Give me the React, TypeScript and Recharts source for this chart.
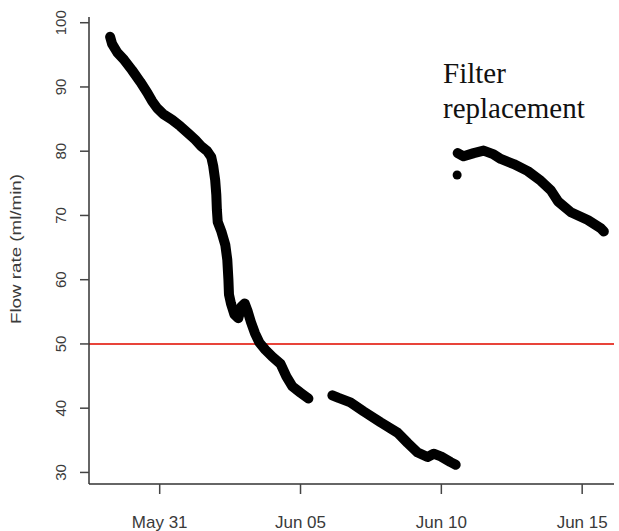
import React from 'react';
import { ComposedChart, Line, Scatter, XAxis, YAxis, ReferenceLine } from 'recharts';

// days are counted from May 31 (0 = May 31, 5 = Jun 05, ...)
const dayTicks = [0, 5, 10, 15];
const dayLabels = ['May 31', 'Jun 05', 'Jun 10', 'Jun 15'];
const flowTicks = [30, 40, 50, 60, 70, 80, 90, 100];
const threshold = 50;

// first filter, up to the logging gap
const days1 = [
  -1.76, -1.69, -1.51, -1.26, -0.98, -0.69, -0.44, -0.27, -0.09, 0.12, 0.44, 0.73,
  1.01, 1.26, 1.47, 1.69, 1.83, 1.9, 1.97, 2.01, 2.03, 2.06, 2.19, 2.33, 2.4, 2.44,
  2.46, 2.53, 2.65, 2.79, 2.9, 3.02, 3.13, 3.24, 3.38, 3.54, 3.75, 4.0, 4.29, 4.5,
  4.71, 5.0, 5.28,
];
const flow1 = [
  97.8, 96.7, 95.4, 94.2, 92.6, 90.8, 89.1, 87.8, 86.7, 85.8, 84.9, 83.9,
  82.8, 81.8, 80.8, 80.0, 79.1, 77.7, 75.5, 73.2, 70.9, 69.0, 67.5, 65.4, 63.1, 60.0,
  57.7, 56.3, 54.6, 54.0, 55.8, 56.3, 55.0, 53.4, 51.7, 50.2, 49.1, 48.0, 46.9, 44.9,
  43.4, 42.4, 41.5,
];

// first filter, after the gap
const days2 = [6.13, 6.35, 6.77, 7.24, 7.84, 8.44, 8.8, 9.16, 9.51, 9.73, 9.98, 10.33, 10.51];
const flow2 = [42.0, 41.6, 40.9, 39.5, 37.8, 36.2, 34.6, 33.1, 32.4, 32.9, 32.5, 31.6, 31.2];

// new filter
const days3 = [10.58, 10.79, 11.15, 11.5, 11.86, 12.11, 12.57, 13.07, 13.53, 13.89, 14.14, 14.6, 15.2, 15.66, 15.77];
const flow3 = [79.7, 79.2, 79.7, 80.1, 79.5, 78.8, 78.0, 76.9, 75.4, 73.9, 72.2, 70.5, 69.3, 68.0, 67.5];

const firstReadingDay = [10.56];
const firstReadingFlow = [76.3];

const zip = (d: number[], f: number[]) => d.map((day, i) => ({ day, flow: f[i] }));

const seg1 = zip(days1, flow1);
const seg2 = zip(days2, flow2);
const seg3 = zip(days3, flow3);
const firstReading = zip(firstReadingDay, firstReadingFlow);

const X_DOMAIN: [number, number] = [-2.51, 16.13];
const Y_DOMAIN: [number, number] = [28.2, 100.89];

const sans = '"Liberation Sans", Arial, sans-serif';

const XTick = (props: any) => {
  const { x, payload } = props;
  const i = dayTicks.indexOf(payload.value);
  return (
    <text x={x} y={528} textAnchor="middle" fontFamily={sans} fontSize={17} fill="#3a3a3a">
      {dayLabels[i]}
    </text>
  );
};

const YTick = (props: any) => {
  const { y, payload } = props;
  return (
    <text
      x={66}
      y={y}
      transform={`rotate(-90 66 ${y})`}
      textAnchor="middle"
      fontFamily={sans}
      fontSize={15}
      fill="#3a3a3a"
    >
      {payload.value}
    </text>
  );
};

const YTitle = () => (
  <text
    x={21}
    y={249}
    transform="rotate(-90 21 249)"
    textAnchor="middle"
    fontFamily={sans}
    fontSize={14}
    fill="#3a3a3a"
    textLength={150}
    lengthAdjust="spacingAndGlyphs"
  >
    Flow rate (ml/min)
  </text>
);

const traceProps = {
  type: 'linear' as const,
  dataKey: 'flow',
  stroke: '#000',
  strokeWidth: 10,
  strokeLinecap: 'round' as const,
  strokeLinejoin: 'round' as const,
  dot: false,
  activeDot: false,
  isAnimationActive: false,
};

export default function App() {
  return (
    <div style={{ position: 'absolute', left: 0, top: 0, width: 619, height: 531, background: '#fff' }}>
      <ComposedChart width={619} height={531} margin={{ top: 17, right: 5, left: 0, bottom: 0 }}>
        <XAxis
          type="number"
          dataKey="day"
          domain={X_DOMAIN}
          ticks={dayTicks}
          allowDataOverflow
          height={47}
          tick={<XTick />}
          tickSize={10}
          tickLine={{ stroke: '#444', strokeWidth: 1.5 }}
          axisLine={{ stroke: '#333', strokeWidth: 1.5 }}
        />
        <XAxis
          xAxisId="top"
          orientation="top"
          type="number"
          domain={X_DOMAIN}
          height={0}
          tick={false}
          tickLine={false}
          axisLine={{ stroke: '#999', strokeWidth: 1.5 }}
        />
        <YAxis
          type="number"
          domain={Y_DOMAIN}
          ticks={flowTicks}
          allowDataOverflow
          width={89}
          tick={<YTick />}
          tickSize={9}
          tickLine={{ stroke: '#444', strokeWidth: 1.5 }}
          axisLine={{ stroke: '#333', strokeWidth: 1.5 }}
          label={<YTitle />}
        />
        <YAxis
          yAxisId="right"
          orientation="right"
          type="number"
          domain={Y_DOMAIN}
          width={0}
          tick={false}
          tickLine={false}
          axisLine={{ stroke: '#ddd', strokeWidth: 1 }}
        />
        <ReferenceLine y={threshold} stroke="#e8443a" strokeWidth={2} />
        <Line {...traceProps} data={seg1} />
        <Line {...traceProps} data={seg2} />
        <Line {...traceProps} data={seg3} />
        <Scatter
          data={firstReading}
          dataKey="flow"
          isAnimationActive={false}
          shape={(p: any) => <circle cx={p.cx} cy={p.cy} r={4.5} fill="#000" />}
        />
      </ComposedChart>
      <div
        style={{
          position: 'absolute',
          left: 443,
          top: 56,
          fontFamily: '"Liberation Serif", "Times New Roman", serif',
          fontSize: 29,
          lineHeight: '35px',
          color: '#111',
        }}
      >
        Filter
        <br />
        replacement
      </div>
    </div>
  );
}
